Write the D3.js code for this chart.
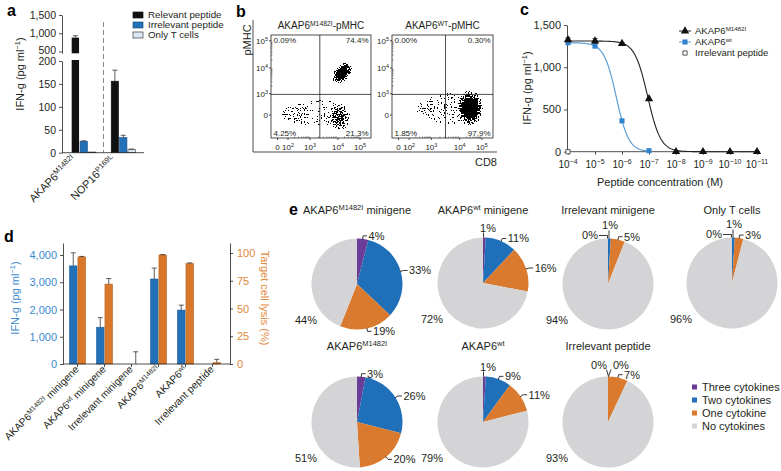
<!DOCTYPE html>
<html><head><meta charset="utf-8">
<script src="https://cdn.jsdelivr.net/npm/d3@7/dist/d3.min.js"></script>
<style>
body{margin:0;background:#fff;}
svg{display:block;}
text{font-family:"Liberation Sans",Arial,Helvetica,sans-serif;}
</style></head><body>
<svg id="fig" width="781" height="471" xmlns="http://www.w3.org/2000/svg"></svg>
<script>
// ================= DATA =================
// (a)
const aGroups = ["AKAP6^{M1482I}", "NOP16^{P169L}"];
const aSeries = ["Relevant peptide", "Irrelevant peptide", "Only T cells"];
const aRelevant = [880, 156];
const aIrrelevant = [25, 33];
const aOnlyT = [1.5, 7];
const aRelevantErr = [50, 24];
const aIrrelevantErr = [1, 5];
const aOnlyTErr = [0, 1];
const aTicksLow = [0, 50, 100, 150, 200];
const aTicksHigh = [500, 1000, 1500];

// (b)
const bTitles = ["AKAP6^{M1482I}-pMHC", "AKAP6^{WT}-pMHC"];
const bQuadrants = [["0.09%", "74.4%", "4.25%", "21.3%"], ["0.00%", "0.30%", "1.85%", "97.9%"]];
const bXTicks = [0, 2, 3, 4, 5];          // log10 units, 0 = zero
const bXTickLabels = ["0", "10^{2}", "10^{3}", "10^{4}", "10^{5}"];
const bYTicks = [0, 3, 4, 5];
const bYTickLabels = ["0", "10^{3}", "10^{4}", "10^{5}"];
const bGateX = [3.35, 3.5];
const bGateY = [2.9, 2.9];
// event clusters: centre and spread in log10 units, kind = density
const bClusters1 = [
  {x: 3.3, y: 0.2, sx: 1.5, sy: 2.6, rot: 0, kind: "faint"},
  {x: 4.18, y: 3.8, sx: 0.62, sy: 0.3, rot: -52, kind: "dense"},
  {x: 4.07, y: -0.3, sx: 0.55, sy: 2.1, rot: 0, kind: "medium"},
  {x: 2.4, y: 0.1, sx: 0.85, sy: 1.7, rot: 0, kind: "sparse"}
];
const bClusters2 = [
  {x: 3.6, y: 0.9, sx: 1.3, sy: 2.4, rot: 0, kind: "faint"},
  {x: 4.46, y: 1.0, sx: 0.62, sy: 2.2, rot: 0, kind: "dense"},
  {x: 2.9, y: 1.0, sx: 0.7, sy: 1.5, rot: 0, kind: "sparse"}
];

// (c)
const cConc = [-4, -5, -6, -7, -8, -9, -10, -11];   // log10 M
const cMut = [1325, 1310, 1280, 625, 0, 0, 0, 0];
const cMutErr = [25, 30, 10, 0, 0, 0, 0, 0];
const cWtConc = [-4, -5, -6, -7];
const cWt = [1290, 1250, 365, 12];
const cIrrConc = [-4];
const cIrr = [0];
const cFitMut = [1310, -6.95, 1.8];   // top, logEC50, hill
const cFitWt = [1290, -5.79, 1.9];
const cYTicks = [0, 500, 1000, 1500];
const cLegend = ["AKAP6^{M1482I}", "AKAP6^{wt}", "Irrelevant peptide"];

// (d)
const dGroups = ["AKAP6^{M1482I} minigene", "AKAP6^{wt} minigene", "Irrelevant minigene", "AKAP6^{M1482I}", "AKAP6^{wt}", "Irrelevant peptide"];
const dIFN = [3600, 1350, 0, 3120, 1980, 0];
const dIFNErr = [480, 350, 0, 400, 180, 0];
const dLysis = [96.5, 72, 0, 98.2, 90.5, 1.2];
const dLysisErr = [0.4, 5, 11, 0.4, 0.6, 3];
const dTicksL = [0, 1000, 2000, 3000, 4000];
const dTicksR = [0, 25, 50, 75, 100];

// (e)
const eCategories = ["Three cytokines", "Two cytokines", "One cytokine", "No cytokines"];
const eTitles = ["AKAP6^{M1482I} minigene", "AKAP6^{wt} minigene", "Irrelevant minigene", "Only T cells",
                 "AKAP6^{M1482I}", "AKAP6^{wt}", "Irrelevant peptide"];
const eValues = [
  [4, 33, 19, 44],
  [1, 11, 16, 72],
  [0, 1, 5, 94],
  [0, 1, 3, 96],
  [3, 26, 20, 51],
  [1, 9, 11, 79],
  [0, 0, 7, 93]
];

// ================= HELPERS =================
const svg = d3.select("#fig");
const INK = "#231f20";
svg.append("rect").attr("width", 781).attr("height", 471).attr("fill", "#fff");

function rich(sel, str, sc) {
  sc = sc || 0.68;
  const parts = str.split(/(\^\{[^}]*\})/).filter(s => s.length);
  let up = false;
  parts.forEach(p => {
    if (p.startsWith("^{")) {
      sel.append("tspan").attr("font-size", sc + "em").attr("dy", "-0.5em").text(p.slice(2, -1));
      up = true;
    } else {
      const t = sel.append("tspan").text(p);
      if (up) { t.attr("dy", (0.5 * sc) + "em"); up = false; }
    }
  });
  return sel;
}
function txt(g, x, y, str, opt) {
  opt = opt || {};
  const t = g.append("text").attr("x", x).attr("y", y)
    .attr("font-size", opt.size || 11)
    .attr("text-anchor", opt.anchor || "start")
    .attr("fill", opt.fill || INK);
  if (opt.bold) t.attr("font-weight", "bold");
  if (opt.dy) t.attr("dy", opt.dy);
  if (opt.rot !== undefined) t.attr("transform", `rotate(${opt.rot},${x},${y})`);
  rich(t, str, opt.sc);
  return t;
}
function styleAxis(g, size, color) {
  g.attr("font-size", size).attr("font-family", null).attr("color", INK);
  g.selectAll("text").attr("fill", color || INK);
  g.selectAll("path,line").attr("stroke", INK).attr("stroke-width", 0.8);
}

// filters & gradients for flow cytometry events
const defs = svg.append("defs");
const f = defs.append("filter").attr("id", "grain").attr("x", "-10%").attr("y", "-10%")
  .attr("width", "120%").attr("height", "120%").attr("color-interpolation-filters", "sRGB");
f.append("feTurbulence").attr("type", "fractalNoise").attr("baseFrequency", 0.7)
  .attr("numOctaves", 1).attr("seed", 5).attr("result", "noise");
f.append("feColorMatrix").attr("in", "noise").attr("type", "matrix")
  .attr("values", "0 0 0 0 0  0 0 0 0 0  0 0 0 0 0  3.2 0 0 0 -1.1").attr("result", "nA");
f.append("feComposite").attr("in", "SourceAlpha").attr("in2", "nA").attr("operator", "arithmetic")
  .attr("k1", 0).attr("k2", 1.5).attr("k3", -1).attr("k4", 0.1).attr("result", "d");
const ct = f.append("feComponentTransfer").attr("in", "d");
["R", "G", "B"].forEach(c => ct.append("feFunc" + c).attr("type", "linear").attr("slope", 0).attr("intercept", 0));
ct.append("feFuncA").attr("type", "discrete").attr("tableValues", "0 1");
const grads = {
  dense: [[0, 1], [0.5, 0.95], [0.72, 0.62], [0.88, 0.4], [1, 0]],
  medium: [[0, 0.82], [0.45, 0.64], [0.8, 0.42], [1, 0]],
  sparse: [[0, 0.44], [0.6, 0.37], [1, 0]],
  faint: [[0, 0.34], [0.7, 0.3], [1, 0]]
};
Object.entries(grads).forEach(([k, stops]) => {
  const rg = defs.append("radialGradient").attr("id", "g_" + k);
  stops.forEach(s => rg.append("stop").attr("offset", s[0]).attr("stop-color", "#000").attr("stop-opacity", s[1]));
});

// panel letters
[["a", 7, 16], ["b", 236, 17], ["c", 520, 15], ["d", 4, 242], ["e", 289, 215]].forEach(l =>
  txt(svg, l[1], l[2], l[0], {size: 16, bold: true, fill: "#000"}));

// ================= PANEL A =================
(function () {
  const g = svg.append("g");
  const x = d3.scaleBand().domain(aGroups).range([63, 144]).paddingInner(0.39).paddingOuter(0.22);
  const sub = d3.scaleBand().domain(aSeries).range([0, x.bandwidth()]).paddingInner(0.12);
  const yL = d3.scaleLinear().domain([0, 200]).range([152.7, 61]);
  const yU = d3.scaleLinear().domain([450, 1500]).range([53.3, 15]);
  const fills = ["#111", "#2271b8", "#dce8f5"];
  const strokes = ["#111", "#1a4f82", "#3a3a3a"];
  const vals = [aRelevant, aIrrelevant, aOnlyT];
  const errs = [aRelevantErr, aIrrelevantErr, aOnlyTErr];

  const sep = (x(aGroups[0]) + x.bandwidth() + x(aGroups[1])) / 2;
  g.append("line").attr("x1", sep).attr("x2", sep).attr("y1", 22).attr("y2", 152.7)
    .attr("stroke", "#8a8a8a").attr("stroke-width", 1).attr("stroke-dasharray", "5,3");

  aGroups.forEach((grp, gi) => {
    aSeries.forEach((s, si) => {
      const v = vals[si][gi], e = errs[si][gi];
      const bx = x(grp) + sub(s), bw = sub.bandwidth();
      const cx = bx + bw / 2;
      if (v <= 200) {
        g.append("rect").attr("x", bx).attr("y", yL(v)).attr("width", bw).attr("height", yL(0) - yL(v))
          .attr("fill", fills[si]).attr("stroke", strokes[si]).attr("stroke-width", 0.6);
        if (e > 0) {
          g.append("line").attr("x1", cx).attr("x2", cx).attr("y1", yL(v)).attr("y2", yL(v + e)).attr("stroke", "#333").attr("stroke-width", 0.8);
          g.append("line").attr("x1", cx - 2.5).attr("x2", cx + 2.5).attr("y1", yL(v + e)).attr("y2", yL(v + e)).attr("stroke", "#333").attr("stroke-width", 0.8);
        }
      } else {
        g.append("rect").attr("x", bx).attr("y", yL(200) - 1).attr("width", bw).attr("height", yL(0) - yL(200) + 1)
          .attr("fill", fills[si]);
        g.append("rect").attr("x", bx).attr("y", yU(v)).attr("width", bw).attr("height", yU(450) - yU(v))
          .attr("fill", fills[si]);
        g.append("line").attr("x1", cx).attr("x2", cx).attr("y1", yU(v)).attr("y2", yU(v + e)).attr("stroke", "#333").attr("stroke-width", 0.8);
        g.append("line").attr("x1", cx - 2.5).attr("x2", cx + 2.5).attr("y1", yU(v + e)).attr("y2", yU(v + e)).attr("stroke", "#333").attr("stroke-width", 0.8);
      }
    });
  });

  const axL = g.append("g").attr("transform", "translate(62,0)")
    .call(d3.axisLeft(yL).tickValues(aTicksLow).tickSize(3).tickSizeOuter(0).tickPadding(3).tickFormat(d3.format(",")));
  styleAxis(axL, 10.5);
  const axU = g.append("g").attr("transform", "translate(62,0)")
    .call(d3.axisLeft(yU).tickValues(aTicksHigh).tickSize(3).tickSizeOuter(0).tickPadding(3).tickFormat(d3.format(",")));
  styleAxis(axU, 10.5);
  axU.selectAll(".tick text").filter(d => d === 500).attr("dy", "0.2em");
  const axB = g.append("g").attr("transform", `translate(0,${yL(0)})`)
    .call(d3.axisBottom(x).tickSize(0).tickSizeOuter(0).tickFormat(""));
  styleAxis(axB, 11);
  axB.select(".domain").attr("d", `M62,0H144`);

  aGroups.forEach(grp => {
    const cx = x(grp) + sub(aSeries[0]) + sub.bandwidth() / 2 + 1;
    txt(g, cx, 160, grp, {anchor: "end", rot: -45, size: 11});
  });
  txt(g, 24, 74, "IFN-g (pg ml^{−1})", {anchor: "middle", rot: -90, size: 11});

  aSeries.forEach((s, i) => {
    const yy = 15 + i * 10;
    g.append("rect").attr("x", 133).attr("y", yy - 3).attr("width", 10).attr("height", 6)
      .attr("fill", fills[i]).attr("stroke", strokes[i]).attr("stroke-width", 0.7);
    txt(g, 148, yy, s, {size: 9.8, dy: "0.35em"});
  });
})();

// ================= PANEL B =================
(function () {
  const g = svg.append("g");
  const boxes = [{x: 271, y: 35, w: 100, h: 103}, {x: 392, y: 35, w: 101, h: 103}];
  const clusters = [bClusters1, bClusters2];
  g.append("path").attr("d", "M253,20V152H497").attr("fill", "none").attr("stroke", INK).attr("stroke-width", 0.8);
  txt(g, 251, 40, "pMHC", {anchor: "middle", rot: -90, size: 11});
  txt(g, 497, 166, "CD8", {anchor: "end", size: 11});

  boxes.forEach((b, bi) => {
    const xs = d3.scaleLinear().domain(bXTicks).range([0.065, 0.17, 0.39, 0.67, 0.89].map(t => b.x + t * b.w));
    const ys = d3.scaleLinear().domain(bYTicks).range([0.777, 0.57, 0.32, 0.056].map(t => b.y + t * b.h));
    const cid = "clipb" + bi;
    defs.append("clipPath").attr("id", cid).append("rect").attr("x", b.x).attr("y", b.y).attr("width", b.w).attr("height", b.h);
    const pg = g.append("g").attr("clip-path", `url(#${cid})`);
    clusters[bi].forEach(c => {
      const cx = xs(c.x), cy = ys(c.y);
      const rx = Math.abs(xs(c.x + c.sx) - cx), ry = Math.abs(ys(c.y + c.sy) - cy);
      pg.append("g").attr("filter", "url(#grain)")
        .append("ellipse").attr("cx", cx).attr("cy", cy).attr("rx", rx).attr("ry", ry)
        .attr("transform", `rotate(${c.rot},${cx},${cy})`).attr("fill", `url(#g_${c.kind})`);
    });
    g.append("line").attr("x1", xs(bGateX[bi])).attr("x2", xs(bGateX[bi])).attr("y1", b.y).attr("y2", b.y + b.h).attr("stroke", INK).attr("stroke-width", 0.8);
    g.append("line").attr("x1", b.x).attr("x2", b.x + b.w).attr("y1", ys(bGateY[bi])).attr("y2", ys(bGateY[bi])).attr("stroke", INK).attr("stroke-width", 0.8);
    g.append("rect").attr("x", b.x).attr("y", b.y).attr("width", b.w).attr("height", b.h)
      .attr("fill", "none").attr("stroke", INK).attr("stroke-width", 0.8);
    bYTicks.forEach((t, i) => {
      g.append("line").attr("x1", b.x - 2).attr("x2", b.x).attr("y1", ys(t)).attr("y2", ys(t)).attr("stroke", INK).attr("stroke-width", 0.8);
      txt(g, b.x - 3, ys(t), bYTickLabels[i], {anchor: "end", size: 8, dy: "0.35em"});
    });
    bXTicks.forEach((t, i) => {
      g.append("line").attr("x1", xs(t)).attr("x2", xs(t)).attr("y1", b.y + b.h).attr("y2", b.y + b.h + 2).attr("stroke", INK).attr("stroke-width", 0.8);
      txt(g, xs(t), 149.5, bXTickLabels[i], {anchor: "middle", size: 8});
    });
    [2, 3, 4].forEach(d => d3.range(2, 10).forEach(k => {
      const xx = xs(d + Math.log10(k));
      g.append("line").attr("x1", xx).attr("x2", xx).attr("y1", b.y + b.h).attr("y2", b.y + b.h - 1.5).attr("stroke", INK).attr("stroke-width", 0.5);
    }));
    [3, 4].forEach(d => d3.range(2, 10).forEach(k => {
      const yy = ys(d + Math.log10(k));
      g.append("line").attr("x1", b.x).attr("x2", b.x + 1.5).attr("y1", yy).attr("y2", yy).attr("stroke", INK).attr("stroke-width", 0.5);
    }));
    const q = bQuadrants[bi];
    txt(g, b.x + 2.5, b.y + 8, q[0], {size: 8});
    txt(g, b.x + b.w - 2.5, b.y + 8, q[1], {size: 8, anchor: "end"});
    txt(g, b.x + 2.5, b.y + b.h - 2.5, q[2], {size: 8});
    txt(g, b.x + b.w - 2.5, b.y + b.h - 2.5, q[3], {size: 8, anchor: "end"});
    txt(g, b.x + b.w / 2, 29, bTitles[bi], {anchor: "middle", size: 10});
  });
})();

// ================= PANEL C =================
(function () {
  const g = svg.append("g");
  const x = d3.scaleLinear().domain([-4, -11]).range([568, 757]);
  const y = d3.scaleLinear().domain([0, 1500]).range([151.7, 25]);
  const hillF = p => c => p[0] / (1 + Math.pow(10, p[2] * (p[1] - c)));
  const line = d3.line().x(d => x(d[0])).y(d => y(d[1]));
  const fm = hillF(cFitMut), fw = hillF(cFitWt);
  const mutCurve = d3.range(-4, -11.001, -0.02).map(c => [c, fm(c)]);
  const wtCurve = d3.range(-4, -7.001, -0.02).map(c => [c, fw(c)]);
  const BLUE = "#2f82cc", BLUE_L = "#5a9fd8";

  const axY = g.append("g").attr("transform", "translate(567,0)")
    .call(d3.axisLeft(y).tickValues(cYTicks).tickSize(3).tickSizeOuter(0).tickPadding(3).tickFormat(d3.format(",")));
  styleAxis(axY, 11);
  const axX = g.append("g").attr("transform", `translate(0,${y(0)})`)
    .call(d3.axisBottom(x).tickValues(cConc).tickSize(3).tickSizeOuter(0).tickPadding(4).tickFormat(""));
  styleAxis(axX, 10);
  axX.select(".domain").attr("d", "M567,0H760");
  cConc.forEach(c => txt(g, x(c), y(0) + 16, "10^{−" + (-c) + "}", {anchor: "middle", size: 10, sc: 0.7}));

  g.append("path").attr("d", line(mutCurve)).attr("fill", "none").attr("stroke", "#222").attr("stroke-width", 1.1);
  g.append("path").attr("d", line(wtCurve)).attr("fill", "none").attr("stroke", BLUE_L).attr("stroke-width", 1.2);

  cConc.forEach((c, i) => {
    if (cMutErr[i] > 0) {
      const yt = y(cMut[i] + cMutErr[i]), yb = y(cMut[i] - cMutErr[i]);
      g.append("line").attr("x1", x(c)).attr("x2", x(c)).attr("y1", yt).attr("y2", yb).attr("stroke", "#222").attr("stroke-width", 0.8);
      [yt, yb].forEach(yy => g.append("line").attr("x1", x(c) - 2.5).attr("x2", x(c) + 2.5).attr("y1", yy).attr("y2", yy).attr("stroke", "#222").attr("stroke-width", 0.8));
    }
  });
  const tri = d3.symbol(d3.symbolTriangle, 30), sq = d3.symbol(d3.symbolSquare, 26), osq = d3.symbol(d3.symbolSquare, 18);
  cWtConc.forEach((c, i) => g.append("path").attr("d", sq()).attr("transform", `translate(${x(c)},${y(cWt[i])})`).attr("fill", BLUE));
  cConc.forEach((c, i) => g.append("path").attr("d", tri()).attr("transform", `translate(${x(c)},${y(cMut[i])})`).attr("fill", "#111"));
  cIrrConc.forEach((c, i) => g.append("path").attr("d", osq()).attr("transform", `translate(${x(c)},${y(cIrr[i])})`)
    .attr("fill", "#fff").attr("stroke", "#555").attr("stroke-width", 1));

  txt(g, 531, 88, "IFN-g (pg ml^{−1})", {anchor: "middle", rot: -90, size: 11});
  txt(g, 660, 186, "Peptide concentration (M)", {anchor: "middle", size: 11});

  const ly = [31, 42, 53];
  g.append("line").attr("x1", 679).attr("x2", 691).attr("y1", ly[0]).attr("y2", ly[0]).attr("stroke", "#222").attr("stroke-width", 1);
  g.append("path").attr("d", tri()).attr("transform", `translate(685,${ly[0]})`).attr("fill", "#111");
  g.append("line").attr("x1", 679).attr("x2", 691).attr("y1", ly[1]).attr("y2", ly[1]).attr("stroke", BLUE_L).attr("stroke-width", 1);
  g.append("path").attr("d", sq()).attr("transform", `translate(685,${ly[1]})`).attr("fill", BLUE);
  g.append("path").attr("d", osq()).attr("transform", `translate(685,${ly[2]})`).attr("fill", "#fff").attr("stroke", "#555");
  cLegend.forEach((s, i) => txt(g, 695, ly[i], s, {size: 9.5, dy: "0.35em", sc: 0.65}));
})();

// ================= PANEL D =================
(function () {
  const g = svg.append("g");
  const BLUE = "#2271b8", ORANGE = "#d9772b", BLUE_T = "#3a8ad0", ORANGE_T = "#e2893a";
  const x = d3.scaleBand().domain(dGroups).range([64, 226]).paddingInner(0.4).paddingOuter(0.2);
  const sub = d3.scaleBand().domain([0, 1]).range([0, x.bandwidth()]).paddingInner(0.1);
  const yL = d3.scaleLinear().domain([0, 4440]).range([364, 243]);
  const yR = d3.scaleLinear().domain([0, 109]).range([364, 243]);

  function errbar(cx, y0, y1) {
    g.append("line").attr("x1", cx).attr("x2", cx).attr("y1", y0).attr("y2", y1).attr("stroke", "#333").attr("stroke-width", 0.8);
    g.append("line").attr("x1", cx - 2.5).attr("x2", cx + 2.5).attr("y1", y1).attr("y2", y1).attr("stroke", "#333").attr("stroke-width", 0.8);
  }
  dGroups.forEach((grp, i) => {
    const bw = sub.bandwidth();
    const x0 = x(grp) + sub(0), x1 = x(grp) + sub(1);
    if (dIFN[i] > 0) g.append("rect").attr("x", x0).attr("y", yL(dIFN[i])).attr("width", bw).attr("height", yL(0) - yL(dIFN[i]))
      .attr("fill", BLUE).attr("stroke", "#1b5a94").attr("stroke-width", 0.5);
    if (dIFNErr[i] > 0) errbar(x0 + bw / 2, yL(dIFN[i]), yL(dIFN[i] + dIFNErr[i]));
    if (dLysis[i] > 0) g.append("rect").attr("x", x1).attr("y", yR(dLysis[i])).attr("width", bw).attr("height", yR(0) - yR(dLysis[i]))
      .attr("fill", ORANGE).attr("stroke", "#a85a1c").attr("stroke-width", 0.5);
    if (dLysisErr[i] > 0) errbar(x1 + bw / 2, yR(dLysis[i]), yR(dLysis[i] + dLysisErr[i]));
  });

  const axL = g.append("g").attr("transform", "translate(63,0)")
    .call(d3.axisLeft(yL).tickValues(dTicksL).tickSize(3).tickSizeOuter(0).tickPadding(3).tickFormat(d3.format(",")));
  styleAxis(axL, 11, BLUE_T);
  const axR = g.append("g").attr("transform", "translate(230,0)")
    .call(d3.axisRight(yR).tickValues(dTicksR).tickSize(3).tickSizeOuter(0).tickPadding(4));
  styleAxis(axR, 11, ORANGE_T);
  const axB = g.append("g").attr("transform", "translate(0,364)")
    .call(d3.axisBottom(x).tickSize(3).tickSizeOuter(0).tickFormat(""));
  styleAxis(axB, 11);
  axB.select(".domain").attr("d", "M63,0H230");

  dGroups.forEach(grp => txt(g, x(grp) + x.bandwidth() / 2 + 2, 370, grp, {anchor: "end", rot: -45, size: 10.2}));
  txt(g, 19, 298, "IFN-g (pg ml^{−1})", {anchor: "middle", rot: -90, size: 11, fill: BLUE_T});
  txt(g, 261, 298, "Target cell lysis (%)", {anchor: "middle", rot: 90, size: 11, fill: ORANGE_T});
})();

// ================= PANEL E =================
(function () {
  const g = svg.append("g");
  const colors = ["#6a3d98", "#1f70b9", "#d97a2e", "#d4d4d6"];
  const centers = [[357, 284], [483, 283], [608, 284], [732, 283], [357, 422], [483, 422], [608, 422]];
  const R = 45.5;
  const pie = d3.pie().sort(null).value(d => d);
  const arc = d3.arc().innerRadius(0).outerRadius(R);
  const polar = (cx, cy, r, a) => [cx + r * Math.sin(a), cy - r * Math.cos(a)];
  const lead = pts => g.append("path").attr("d", d3.line()(pts)).attr("fill", "none").attr("stroke", INK).attr("stroke-width", 0.9);

  eValues.forEach((vals, pi) => {
    const [cx, cy] = centers[pi];
    const arcs = pie(vals);
    g.append("g").attr("transform", `translate(${cx},${cy})`).selectAll("path").data(arcs).join("path")
      .attr("d", arc).attr("fill", (d, i) => colors[i]);
    const top = cy - R;
    [0, 1, 2].forEach(i => {
      if (vals[i] <= 1) return;
      const a = (arcs[i].startAngle + arcs[i].endAngle) / 2;
      const P = polar(cx, cy, R - 0.5, a), Q = polar(cx, cy, R + 3, a);
      const side = Math.sin(a) >= 0 ? 1 : -1;
      const E = [Q[0] + 4 * side, Q[1]];
      lead([P, Q, E]);
      txt(g, E[0] + 1.5 * side, E[1], vals[i] + "%", {anchor: side > 0 ? "start" : "end", dy: "0.35em", size: 11});
    });
    const tiny = [0, 1, 2].filter(i => vals[i] <= 1);
    if (tiny.length === 1) {
      lead([[cx + 0.5, top], [cx + 0.5, top - 5]]);
      txt(g, cx + 5, top - 6, vals[tiny[0]] + "%", {anchor: "middle", size: 11});
    } else if (tiny.length === 2) {
      if (vals[tiny[0]] === 0 && vals[tiny[1]] === 0) {
        lead([[cx - 1.5, top - 7], [cx + 0.5, top], [cx + 3, top - 7]]);
        txt(g, cx - 1, top - 8, vals[tiny[0]] + "%", {anchor: "end", size: 11});
        txt(g, cx + 5, top - 8, vals[tiny[1]] + "%", {anchor: "start", size: 11});
      } else {
        lead([[cx - 0.5, top], [cx - 0.5, top - 3], [cx - 9, top - 3]]);
        txt(g, cx - 10, top - 3, vals[tiny[0]] + "%", {anchor: "end", dy: "0.35em", size: 11});
        lead([[cx + 1, top], [cx + 1, top - 8]]);
        txt(g, cx + 2, top - 10, vals[tiny[1]] + "%", {anchor: "middle", size: 11});
      }
    }
    txt(g, cx - 51, cy + 36, vals[3] + "%", {anchor: "middle", dy: "0.35em", size: 11});
    txt(g, cx, pi < 4 ? 214 : 350, eTitles[pi], {anchor: "middle", size: 11});
  });

  eCategories.forEach((c, i) => {
    const yy = 387 + i * 13;
    g.append("rect").attr("x", 692).attr("y", yy - 2.5).attr("width", 5).attr("height", 5).attr("fill", colors[i]);
    txt(g, 702, yy, c, {size: 11, dy: "0.35em"});
  });
})();
</script>
</body></html>
